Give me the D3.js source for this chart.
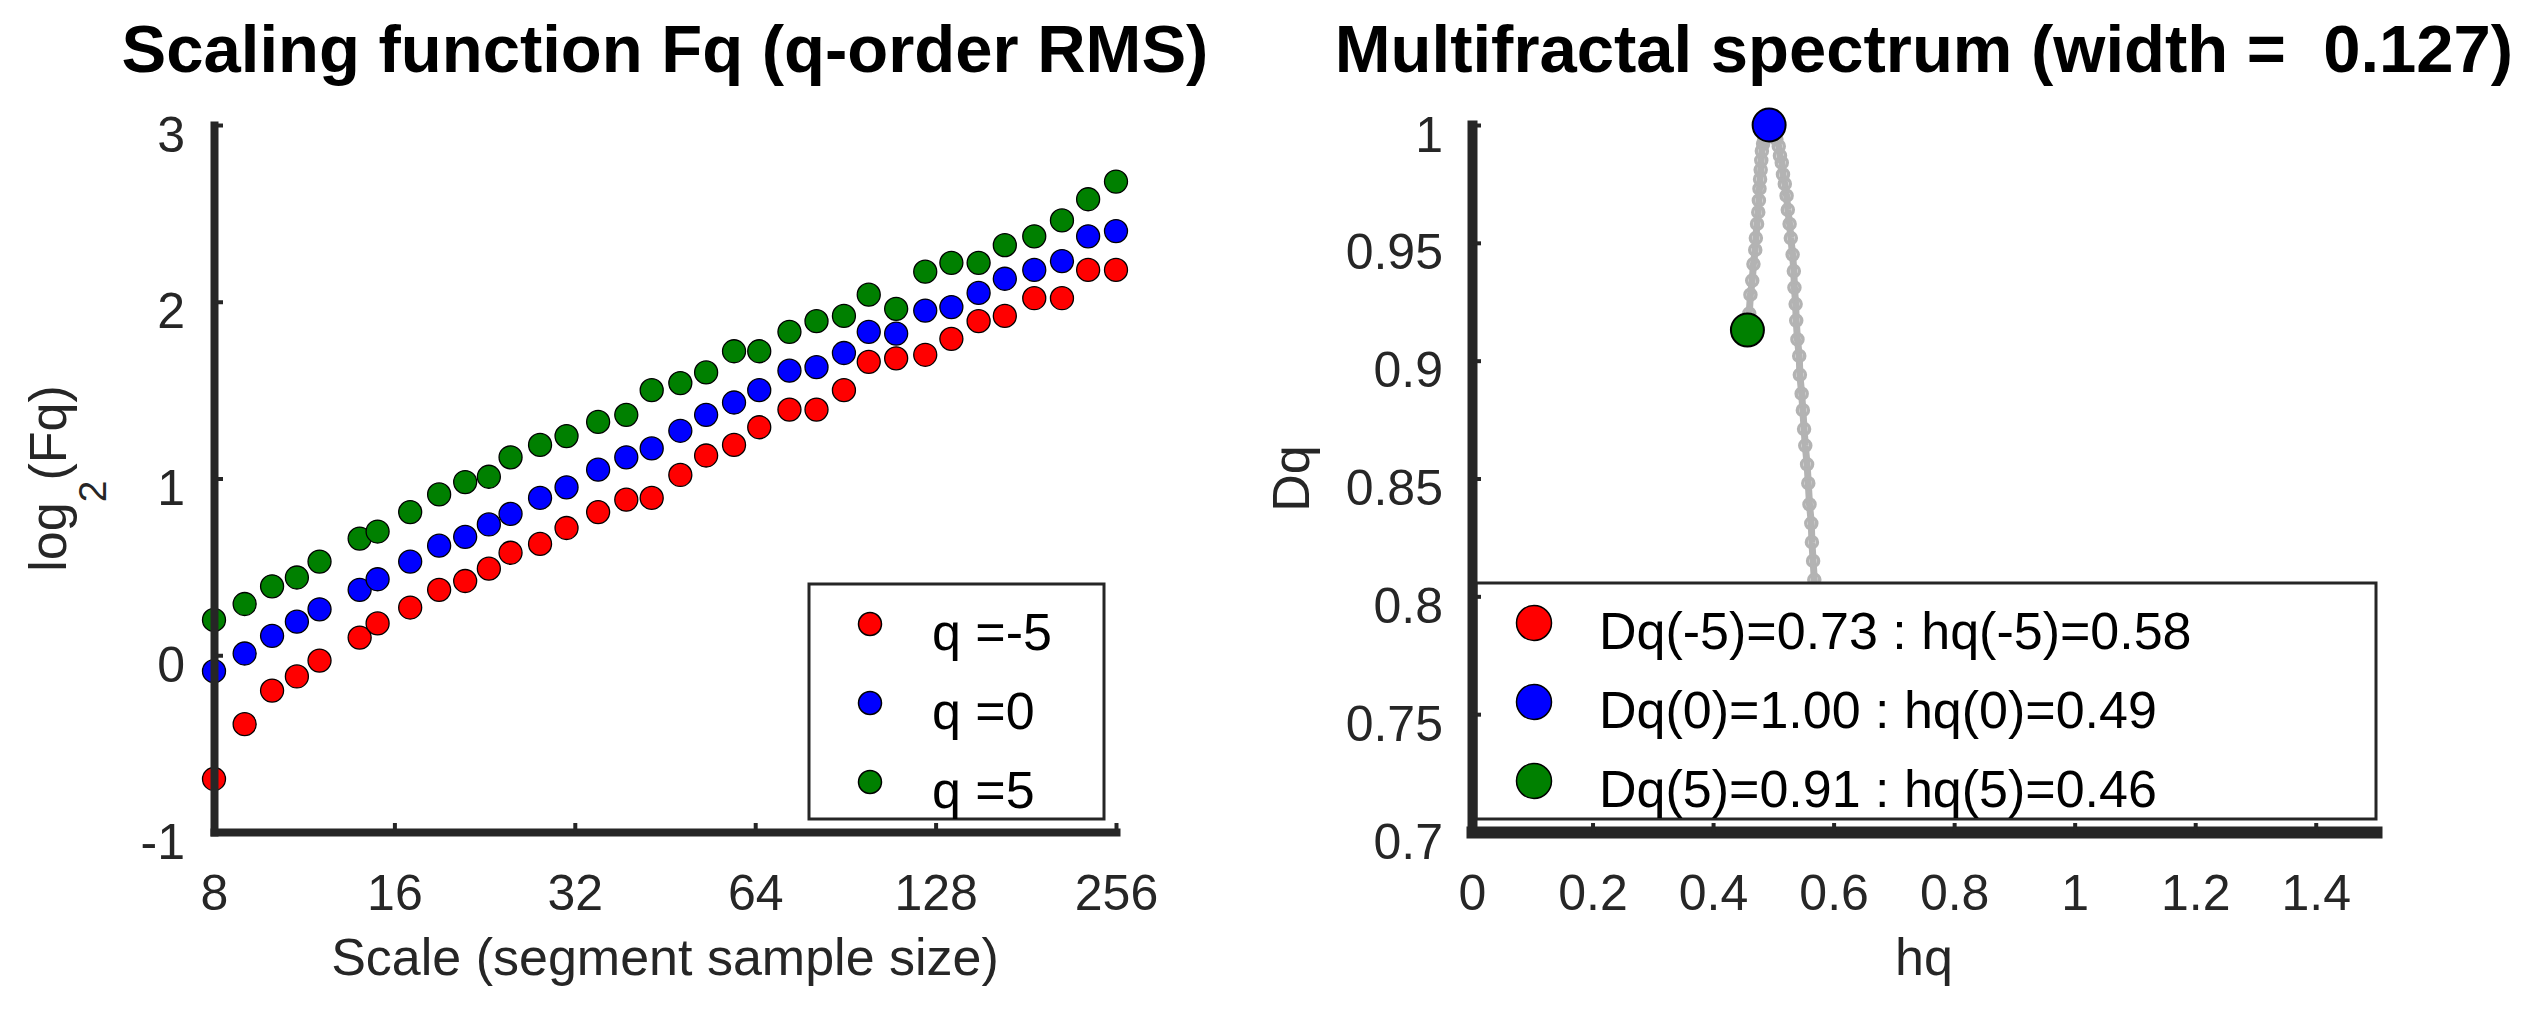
<!DOCTYPE html>
<html>
<head>
<meta charset="utf-8">
<script src="https://cdn.jsdelivr.net/npm/d3@7"></script>
<style>
  body { margin: 0; background: #fff; }
  text { font-family: "Liberation Sans", Arial, sans-serif; white-space: pre; }
</style>
</head>
<body>
<div id="chart"></div>
<script>
// ---- left panel: scaling function ----
const scales = [8, 9, 10, 11, 12, 14, 15, 17, 19, 21, 23, 25, 28, 31, 35, 39, 43, 48, 53, 59, 65, 73, 81, 90, 99, 110, 123, 136, 151, 167, 187, 208, 230, 256];
const fqQm5 = [-0.70, -0.39, -0.20, -0.12, -0.03, 0.10, 0.18, 0.27, 0.37, 0.42, 0.49, 0.58, 0.63, 0.72, 0.81, 0.88, 0.89, 1.02, 1.13, 1.19, 1.29, 1.39, 1.39, 1.50, 1.66, 1.68, 1.70, 1.79, 1.89, 1.92, 2.02, 2.02, 2.18, 2.18];
const fqQ0 = [-0.09, 0.01, 0.11, 0.19, 0.26, 0.37, 0.43, 0.53, 0.62, 0.67, 0.74, 0.80, 0.89, 0.95, 1.05, 1.12, 1.17, 1.27, 1.36, 1.43, 1.50, 1.61, 1.63, 1.71, 1.83, 1.82, 1.95, 1.97, 2.05, 2.13, 2.18, 2.23, 2.37, 2.40];
const fqQ5 = [0.20, 0.29, 0.39, 0.44, 0.53, 0.66, 0.70, 0.81, 0.91, 0.98, 1.01, 1.12, 1.19, 1.24, 1.32, 1.36, 1.50, 1.54, 1.60, 1.72, 1.72, 1.83, 1.89, 1.92, 2.04, 1.96, 2.17, 2.22, 2.22, 2.32, 2.37, 2.46, 2.58, 2.68];
const qLabels = ["q =-5", "q =0", "q =5"];
const qColors = ["#ff0000", "#0000ff", "#008000"];
const scaleTicks = [8, 16, 32, 64, 128, 256];
const fqTicks = [-1, 0, 1, 2, 3];

// ---- right panel: multifractal spectrum (q = -5 ... 5) ----
const hqSpec = [0.580, 0.579, 0.578, 0.577, 0.576, 0.574, 0.573, 0.572, 0.570, 0.568, 0.566, 0.564, 0.563, 0.560, 0.558, 0.556, 0.553, 0.551, 0.549, 0.547, 0.544, 0.543, 0.540, 0.538, 0.537, 0.535, 0.534, 0.532, 0.529, 0.527, 0.524, 0.522, 0.519, 0.516, 0.514, 0.511, 0.509, 0.505, 0.502, 0.498, 0.493,
  0.490, 0.488, 0.486, 0.485, 0.483, 0.481, 0.480, 0.479, 0.478, 0.477, 0.476, 0.475, 0.473, 0.471, 0.470, 0.467, 0.465, 0.462, 0.460, 0.457];
const dqSpec = [0.730, 0.737, 0.745, 0.754, 0.763, 0.772, 0.781, 0.790, 0.798, 0.807, 0.815, 0.823, 0.831, 0.839, 0.848, 0.856, 0.864, 0.871, 0.879, 0.886, 0.894, 0.902, 0.909, 0.917, 0.924, 0.931, 0.938, 0.945, 0.952, 0.958, 0.964, 0.970, 0.975, 0.979, 0.984, 0.987, 0.991, 0.994, 0.996, 0.998, 1.000,
  0.999, 0.998, 0.996, 0.994, 0.992, 0.989, 0.985, 0.981, 0.977, 0.973, 0.968, 0.963, 0.958, 0.952, 0.947, 0.941, 0.934, 0.928, 0.920, 0.913];
const hqMarks = [0.580, 0.493, 0.457];
const dqMarks = [0.730, 1.000, 0.913];
const specLabels = ["Dq(-5)=0.73 : hq(-5)=0.58", "Dq(0)=1.00 : hq(0)=0.49", "Dq(5)=0.91 : hq(5)=0.46"];
const hqTicks = [0, 0.2, 0.4, 0.6, 0.8, 1, 1.2, 1.4];
const dqTicks = [0.7, 0.75, 0.8, 0.85, 0.9, 0.95, 1];

const W = 2532, H = 1012;
const axisColor = "#262626";
const specGray = "#b3b3b3";
const plotTop = 125, plotBottom = 832;

const svg = d3.select("#chart").append("svg")
  .attr("width", W).attr("height", H)
  .style("background", "#fff");

function styleAxis(sel, lw) {
  sel.select(".domain").attr("stroke", axisColor).attr("stroke-width", lw).attr("stroke-linecap", "square");
  sel.selectAll(".tick line").attr("stroke", axisColor).attr("stroke-width", 4);
  sel.selectAll(".tick text").attr("fill", axisColor).style("font-size", "50px");
}

function drawAxes(x, y, xTicks, yTicks, fmt, lwx, lwy) {
  const gx = svg.append("g")
    .attr("transform", `translate(0,${y.range()[0]})`)
    .call(d3.axisBottom(x).tickValues(xTicks).tickFormat(fmt)
      .tickSizeInner(-9).tickSizeOuter(0).tickPadding(42));
  styleAxis(gx, lwx);
  const gy = svg.append("g")
    .attr("transform", `translate(${x.range()[0]},0)`)
    .call(d3.axisLeft(y).tickValues(yTicks).tickFormat(fmt)
      .tickSizeInner(-9).tickSizeOuter(0).tickPadding(29));
  styleAxis(gy, lwy);
  gy.selectAll(".tick text").attr("dy", "0.52em");
}

function drawTitle(x, str) {
  svg.append("text")
    .attr("x", d3.mean(x.range())).attr("y", 72)
    .attr("text-anchor", "middle")
    .style("font-size", "67px").style("font-weight", "bold")
    .attr("fill", "#000")
    .text(str);
}

function drawLegend(x0, y0, w, h, labels, r, markerDx) {
  const lg = svg.append("g").attr("transform", `translate(${x0},${y0})`);
  lg.append("rect").attr("width", w).attr("height", h)
    .attr("fill", "#fff").attr("stroke", axisColor).attr("stroke-width", 3);
  const rows = lg.selectAll("g.row").data(labels).join("g")
    .attr("transform", (d, i) => `translate(0,${40 + i * 79})`);
  rows.append("circle").attr("cx", markerDx).attr("r", r)
    .attr("fill", (d, i) => qColors[i]).attr("stroke", "#000").attr("stroke-width", 1.5);
  rows.append("text").attr("x", 123).attr("y", 26)
    .style("font-size", "52px").attr("fill", "#000")
    .text(d => d);
}

// ---------------- left panel ----------------
const xL = d3.scaleLog().base(2).domain([8, 256]).range([214, 1116]);
const yL = d3.scaleLinear().domain([-1, 3]).range([plotBottom, plotTop]);

drawTitle(xL, "Scaling function Fq (q-order RMS)");

const seriesL = [fqQm5, fqQ0, fqQ5];
seriesL.forEach((vals, i) => {
  svg.append("g").selectAll("circle")
    .data(scales.map((s, j) => [s, vals[j]]))
    .join("circle")
    .attr("cx", d => xL(d[0])).attr("cy", d => yL(d[1]))
    .attr("r", 11.5)
    .attr("fill", qColors[i]).attr("stroke", "#000").attr("stroke-width", 1.3);
});

drawAxes(xL, yL, scaleTicks, fqTicks, d => String(d), 8, 8);

const ylab = svg.append("text")
  .attr("transform", `translate(66,${d3.mean(yL.range())}) rotate(-90)`)
  .attr("text-anchor", "middle")
  .style("font-size", "52px").attr("fill", axisColor);
ylab.append("tspan").text("log");
ylab.append("tspan").attr("dy", 40).style("font-size", "39px").text("2");
ylab.append("tspan").attr("dy", -40).text("(Fq)");

svg.append("text")
  .attr("x", d3.mean(xL.range())).attr("y", 975)
  .attr("text-anchor", "middle")
  .style("font-size", "52px").attr("fill", axisColor)
  .text("Scale (segment sample size)");

drawLegend(xL.range()[1] - 307, plotBottom - 248, 295, 235, qLabels, 11.5, 61);

// ---------------- right panel ----------------
const xR = d3.scaleLinear().domain([0, 1.5]).range([1472, 2376]);
const yR = d3.scaleLinear().domain([0.7, 1]).range([plotBottom, plotTop]);

drawTitle(xR, "Multifractal spectrum (width =  0.127)");

const spec = hqSpec.map((h, i) => [h, dqSpec[i]]);
svg.append("path")
  .datum(spec)
  .attr("fill", "none").attr("stroke", specGray).attr("stroke-width", 7)
  .attr("stroke-linejoin", "round")
  .attr("d", d3.line().x(d => xR(d[0])).y(d => yR(d[1])));
svg.append("g").selectAll("circle")
  .data(spec).join("circle")
  .attr("cx", d => xR(d[0])).attr("cy", d => yR(d[1]))
  .attr("r", 5.5).attr("fill", "none")
  .attr("stroke", specGray).attr("stroke-width", 3.5);

svg.append("g").selectAll("circle")
  .data(hqMarks.map((h, i) => [h, dqMarks[i], i]))
  .join("circle")
  .attr("cx", d => xR(d[0])).attr("cy", d => yR(d[1]))
  .attr("r", 16.5)
  .attr("fill", d => qColors[d[2]]).attr("stroke", "#000").attr("stroke-width", 2);

drawLegend(xR.range()[0] + 4, plotBottom - 249, 900, 236, specLabels, 17.5, 58);

drawAxes(xR, yR, hqTicks, dqTicks, d => String(+d.toFixed(2)), 12, 10);

svg.append("text")
  .attr("transform", `translate(1309,${d3.mean(yR.range())}) rotate(-90)`)
  .attr("text-anchor", "middle")
  .style("font-size", "52px").attr("fill", axisColor)
  .text("Dq");

svg.append("text")
  .attr("x", d3.mean(xR.range())).attr("y", 975)
  .attr("text-anchor", "middle")
  .style("font-size", "52px").attr("fill", axisColor)
  .text("hq");
</script>
</body>
</html>
